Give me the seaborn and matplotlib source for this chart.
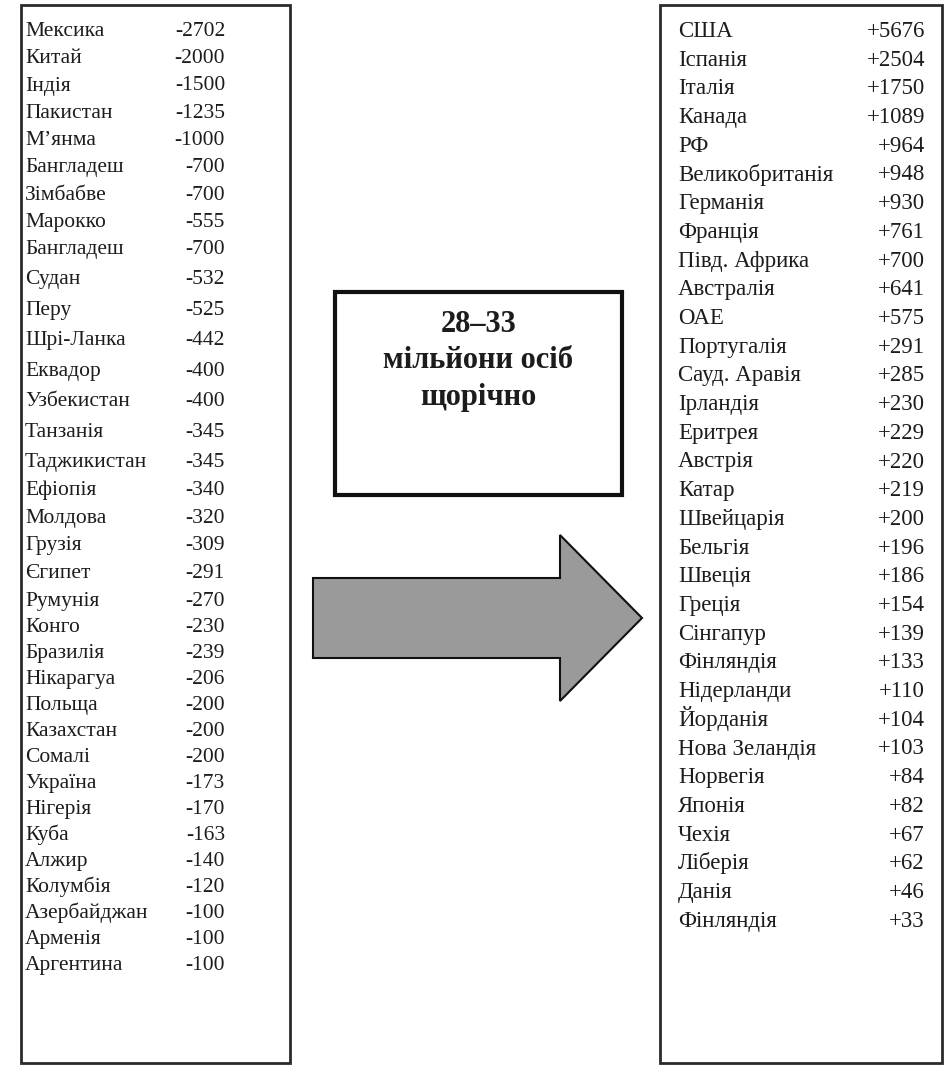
import numpy as np
import matplotlib
matplotlib.use("Agg")
import matplotlib.pyplot as plt
from matplotlib.patches import Rectangle, Polygon
import seaborn as sns

sns.set_theme(style="white")
plt.rcParams['font.family'] = ['Liberation Serif', 'DejaVu Serif']

# ---- data ----
out_countries = ["Мексика", "Китай", "Індія", "Пакистан", "М’янма", "Бангладеш",
                 "Зімбабве", "Марокко", "Бангладеш", "Судан", "Перу", "Шрі-Ланка",
                 "Еквадор", "Узбекистан", "Танзанія", "Таджикистан", "Ефіопія",
                 "Молдова", "Грузія", "Єгипет", "Румунія", "Конго", "Бразилія",
                 "Нікарагуа", "Польща", "Казахстан", "Сомалі", "Україна", "Нігерія",
                 "Куба", "Алжир", "Колумбія", "Азербайджан", "Арменія", "Аргентина"]
out_values = [-2702, -2000, -1500, -1235, -1000, -700, -700, -555, -700, -532, -525,
              -442, -400, -400, -345, -345, -340, -320, -309, -291, -270, -230, -239,
              -206, -200, -200, -200, -173, -170, -163, -140, -120, -100, -100, -100]

in_countries = ["США", "Іспанія", "Італія", "Канада", "РФ", "Великобританія",
                "Германія", "Франція", "Півд. Африка", "Австралія", "ОАЕ", "Португалія",
                "Сауд. Аравія", "Ірландія", "Еритрея", "Австрія", "Катар", "Швейцарія",
                "Бельгія", "Швеція", "Греція", "Сінгапур", "Фінляндія", "Нідерланди",
                "Йорданія", "Нова Зеландія", "Норвегія", "Японія", "Чехія", "Ліберія",
                "Данія", "Фінляндія"]
in_values = [5676, 2504, 1750, 1089, 964, 948, 930, 761, 700, 641, 575, 291, 285, 230,
             229, 220, 219, 200, 196, 186, 154, 139, 133, 110, 104, 103, 84, 82, 67,
             62, 46, 33]

center_lines = ["28–33", "мільйони осіб", "щорічно"]

# ---- figure in pixel coordinates ----
W, H = 945, 1065
fig = plt.figure(figsize=(W / 100, H / 100), dpi=100)
ax = fig.add_axes([0, 0, 1, 1])
ax.set_xlim(0, W)
ax.set_ylim(H, 0)
ax.axis('off')

txt_color = '#1c1c1c'
fs_left = 15.5
fs_right = 16.5

# left box
ax.add_patch(Rectangle((21, 5), 269, 1058, fill=False, edgecolor='#2a2a2a', lw=2.0))
# right box
ax.add_patch(Rectangle((660, 5), 282, 1058, fill=False, edgecolor='#2a2a2a', lw=2.0))

# left list layout (row spacing in source is slightly uneven)
left_rows = np.arange(len(out_countries))
left_y = np.interp(left_rows, [0, 8, 15, 20, 27, 34], [30, 248, 461, 600, 782, 964])
for name, val, y in zip(out_countries, out_values, left_y):
    ax.text(25, y + 6, name, ha='left', va='baseline', fontsize=fs_left, color=txt_color)
    ax.text(225, y + 6, f"{val:+d}", ha='right', va='baseline', fontsize=fs_left,
            color=txt_color)

# right list layout
right_y = 30 + np.arange(len(in_countries)) * 28.7
for name, val, y in zip(in_countries, in_values, right_y):
    ax.text(678, y + 7, name, ha='left', va='baseline', fontsize=fs_right, color=txt_color)
    ax.text(925, y + 7, f"{val:+d}", ha='right', va='baseline', fontsize=fs_right,
            color=txt_color)

# center box
ax.add_patch(Rectangle((335, 292), 287, 203, fill=False, edgecolor='#111111', lw=3.0))
for line, y in zip(center_lines, [332, 368, 405]):
    ax.text(478.5, y, line, ha='center', va='baseline', fontsize=22,
            fontweight='bold', color=txt_color)

# arrow
arrow = Polygon([(313, 578), (560, 578), (560, 535), (642, 618),
                 (560, 701), (560, 658), (313, 658)], closed=True,
                facecolor='#9a9a9a', edgecolor='#111111', lw=1.5)
ax.add_patch(arrow)

fig.savefig("out.png", dpi=100, facecolor='white')
